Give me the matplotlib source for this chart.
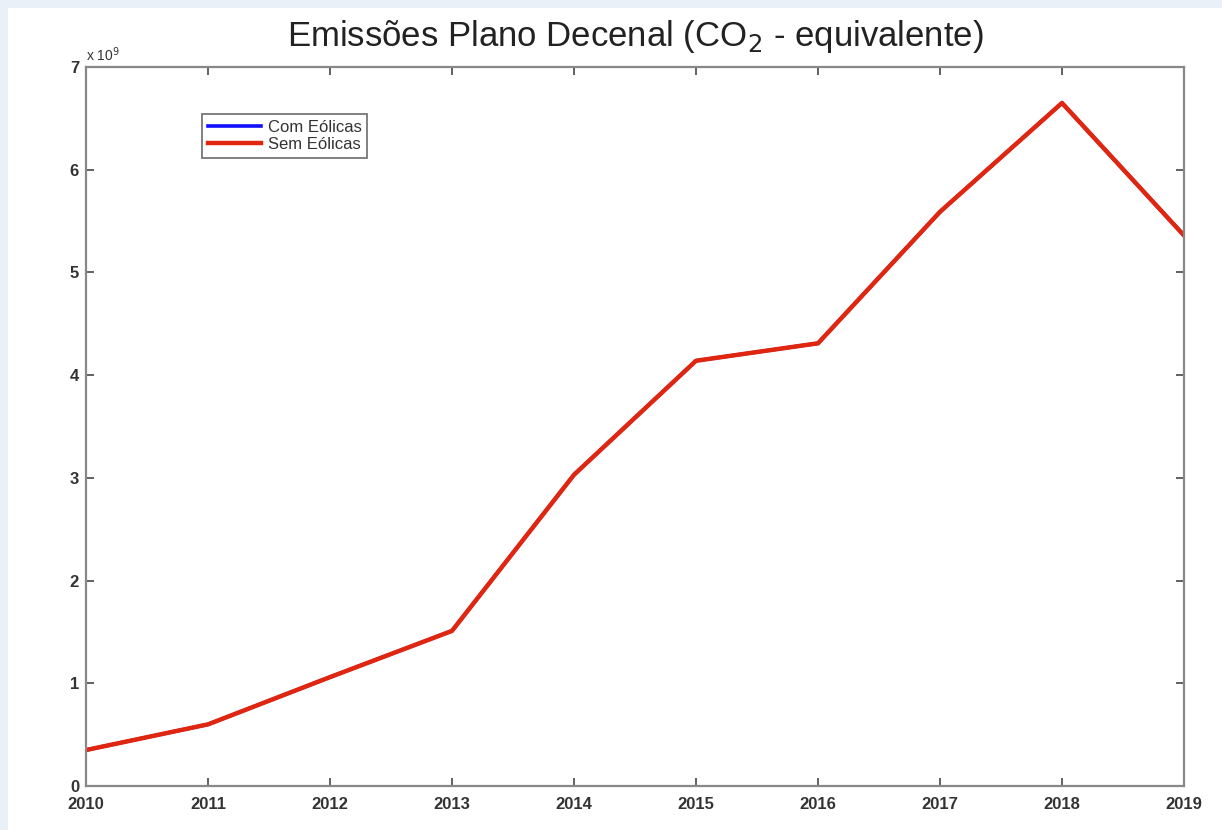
import numpy as np
import matplotlib
matplotlib.use('Agg')
import matplotlib.pyplot as plt
from matplotlib.patches import Rectangle

plt.rcParams['font.family'] = ['Liberation Sans', 'DejaVu Sans']

# data (x 10^9 t CO2-eq)
years = [2010, 2011, 2012, 2013, 2014, 2015, 2016, 2017, 2018, 2019]
com_eolicas = [0.35, 0.60, 1.06, 1.51, 3.03, 4.14, 4.31, 5.59, 6.65, 5.36]
sem_eolicas = [0.35, 0.60, 1.06, 1.51, 3.03, 4.14, 4.31, 5.59, 6.65, 5.36]
yticks = [0, 1, 2, 3, 4, 5, 6, 7]

fig = plt.figure(figsize=(12.22, 8.3), dpi=100)
fig.patch.set_facecolor('#eaf0f8')
# white panel behind the plot
fig.patches.append(Rectangle((8 / 1222, 0), 1, 1 - 8 / 830, transform=fig.transFigure,
                             facecolor='white', edgecolor='none', zorder=-1))

ax = fig.add_axes([86 / 1222, 1 - 786 / 830, 1098 / 1222, 719 / 830])
ax.plot(years, com_eolicas, color='#1010ff', lw=2.6, label='Com Eólicas')
ax.plot(years, sem_eolicas, color='#e0260f', lw=3.2, label='Sem Eólicas')

ax.set_xlim(2010, 2019)
ax.set_ylim(0, 7)
ax.set_xticks(years)
ax.set_yticks(yticks)
ax.tick_params(direction='in', top=True, right=True, length=6, width=1.3,
               color='#555555', labelsize=12, labelcolor='#333333')
ax.tick_params(axis='x', pad=8)
ax.tick_params(axis='y', pad=5)
for lbl in ax.get_xticklabels() + ax.get_yticklabels():
    lbl.set_fontweight('bold')
for s in ax.spines.values():
    s.set_color('#888888')
    s.set_linewidth(1.6)

ax.text(0.0, 1.004, 'x 10$^9$', transform=ax.transAxes, fontsize=10,
        color='#333333', va='bottom', ha='left')

ax.set_title('Emissões Plano Decenal (CO$_2$ - equivalente)', fontsize=25,
             color='#222222', pad=15)

leg = ax.legend(loc='upper left', bbox_to_anchor=(0.1055, 0.935), fontsize=12,
                frameon=True, fancybox=False, handlelength=3.2, borderpad=0.35,
                labelspacing=0.15, handletextpad=0.4, borderaxespad=0)
leg.get_frame().set_edgecolor('#555555')
leg.get_frame().set_linewidth(1.3)
for t in leg.get_texts():
    t.set_color('#333333')

fig.savefig('out.png', dpi=100, facecolor=fig.get_facecolor())
